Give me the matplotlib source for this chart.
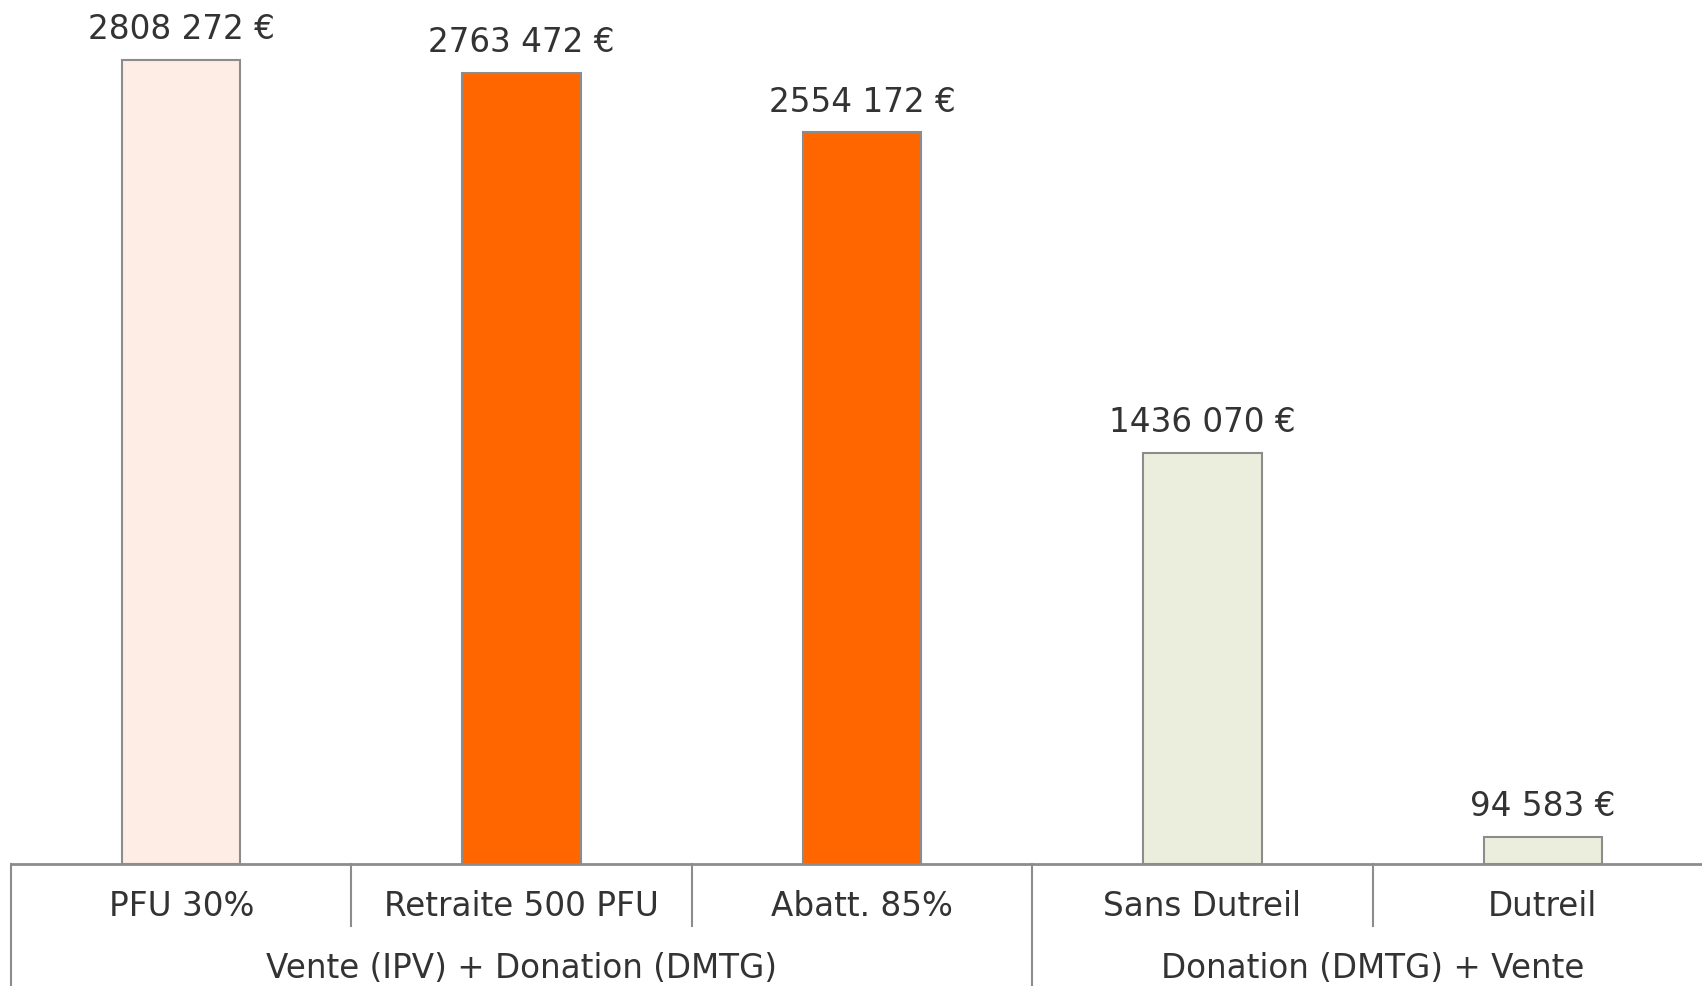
import matplotlib.pyplot as plt
from matplotlib.lines import Line2D
from matplotlib.transforms import blended_transform_factory

# Donnees
categories = ['PFU 30%', 'Retraite 500 PFU', 'Abatt. 85%', 'Sans Dutreil', 'Dutreil']
valeurs = [2808272, 2763472, 2554172, 1436070, 94583]
etiquettes = ['2808 272 €', '2763 472 €', '2554 172 €', '1436 070 €', '94 583 €']
groupes = ['Vente (IPV) + Donation (DMTG)', 'Donation (DMTG) + Vente']
groupe_taille = [3, 2]
couleurs = ['#FDEDE5', '#FF6600', '#FF6600', '#ECEEDD', '#ECEEDD']

texte = '#333333'
gris = '#8C8C8C'
taille = 23.5

fig = plt.figure(figsize=(17.02, 9.86), dpi=100)
ax = fig.add_axes([11 / 1702, (986 - 864) / 986, 1 - 11 / 1702, 864 / 986])

x = list(range(len(categories)))
ax.bar(x, valeurs, width=0.348, color=couleurs, edgecolor=gris, linewidth=1.5)

for xi, v, lab in zip(x, valeurs, etiquettes):
    ax.annotate(lab, (xi, v), xytext=(0, 10), textcoords='offset points',
                ha='center', va='bottom', fontsize=taille, color=texte)

ax.set_ylim(0, 3016700)
ax.set_xlim(-0.5, -0.5 + (1702 - 11) / 340.4)
ax.set_xticks([])
ax.set_yticks([])
for s in ['top', 'right', 'left']:
    ax.spines[s].set_visible(False)
ax.spines['bottom'].set_color(gris)
ax.spines['bottom'].set_linewidth(2)

# Zone des etiquettes sous l'axe
tr = blended_transform_factory(ax.transData, fig.transFigure)
y_axe = (986 - 864) / 986
y_court = (986 - 926) / 986
for xi, lab in zip(x, categories):
    fig.text(xi, (986 - 906) / 986, lab, transform=tr, ha='center', va='center',
             fontsize=taille, color=texte)

debut = 0
for g, n in zip(groupes, groupe_taille):
    centre = debut + (n - 1) / 2
    fig.text(centre, (986 - 969) / 986, g, transform=tr, ha='center', va='center',
             fontsize=taille, color=texte)
    fig.add_artist(Line2D([debut - 0.5, debut - 0.5], [0, y_axe], transform=tr,
                          color=gris, linewidth=1.5))
    for k in range(1, n):
        fig.add_artist(Line2D([debut + k - 0.5, debut + k - 0.5], [y_court, y_axe],
                              transform=tr, color=gris, linewidth=1.5))
    debut += n

fig.savefig('out.png', dpi=100)
